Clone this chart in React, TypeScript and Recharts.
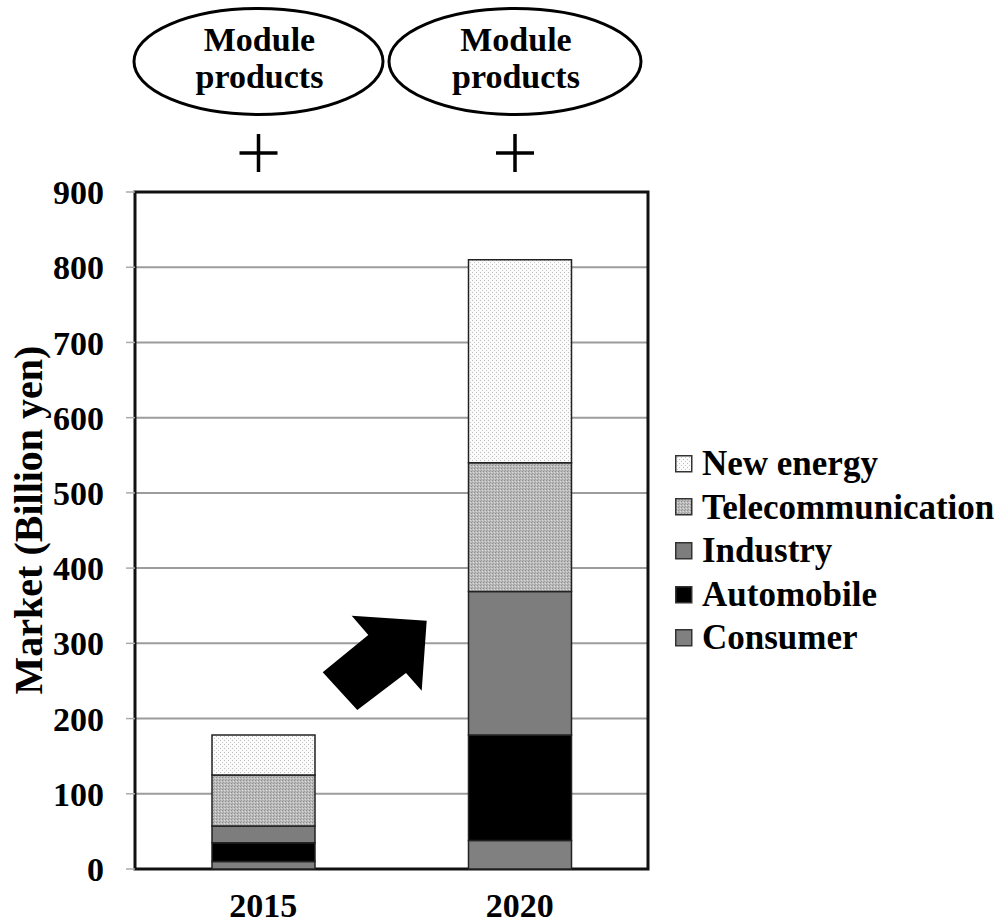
import {
  BarChart,
  Bar,
  XAxis,
  YAxis,
  CartesianGrid,
  Legend,
  ReferenceArea,
  Label,
} from 'recharts';

const FONT = '"Liberation Serif", "Times New Roman", serif';

const years = ['2015', '2020'];
const consumer = [10, 38];
const automobile = [25, 140];
const industry = [22, 191];
const telecom = [68, 171];
const newEnergy = [53, 270];
const yTicks = [0, 100, 200, 300, 400, 500, 600, 700, 800, 900];
const edgeTicks = [0, 1, 2];

const data = years.map((year, i) => ({
  year,
  consumer: consumer[i],
  automobile: automobile[i],
  industry: industry[i],
  telecom: telecom[i],
  newEnergy: newEnergy[i],
}));

// stacked bottom to top
const series = [
  { key: 'consumer', name: 'Consumer', fill: '#808080' },
  { key: 'automobile', name: 'Automobile', fill: '#000000' },
  { key: 'industry', name: 'Industry', fill: '#7d7d7d' },
  { key: 'telecom', name: 'Telecommunication', fill: 'url(#telecomDots)' },
  { key: 'newEnergy', name: 'New energy', fill: 'url(#newEnergyDots)' },
];

function LegendList() {
  return (
    <div style={{ fontFamily: FONT }}>
      {[...series].reverse().map((s) => (
        <div
          key={s.key}
          style={{ display: 'flex', alignItems: 'center', height: 43.6 }}
        >
          <svg width={18} height={18} style={{ marginRight: 9 }}>
            <rect x={0.75} y={0.75} width={16} height={16} fill={s.fill} stroke="#333" strokeWidth={1.5} />
          </svg>
          <span style={{ fontSize: 35, fontWeight: 'bold', color: '#000', lineHeight: '43.6px' }}>
            {s.name}
          </span>
        </div>
      ))}
    </div>
  );
}

function Callouts() {
  const bubbles = [
    { cx: 258.5, cy: 61.5, rx: 124.5 },
    { cx: 515, cy: 61.5, rx: 126 },
  ];
  return (
    <svg
      width={999}
      height={924}
      style={{ position: 'absolute', left: 0, top: 0, pointerEvents: 'none' }}
    >
      {bubbles.map((b, i) => (
        <g key={i}>
          <ellipse cx={b.cx} cy={b.cy} rx={b.rx} ry={53} fill="none" stroke="#000" strokeWidth={3} />
          <text x={b.cx + 1} y={51} textAnchor="middle" fontFamily={FONT} fontWeight="bold" fontSize={34}>
            Module
          </text>
          <text x={b.cx + 1} y={88} textAnchor="middle" fontFamily={FONT} fontWeight="bold" fontSize={34}>
            products
          </text>
          <path
            d={`M${b.cx - 19} 153 H${b.cx + 19} M${b.cx} 134 V172`}
            stroke="#000"
            strokeWidth={3.5}
          />
        </g>
      ))}
      <polygon
        points="322.7,672.3 368.3,635 351.7,615.7 426.7,620.7 421.7,690.7 406,673 357.3,710"
        fill="#000"
      />
    </svg>
  );
}

export default function App() {
  return (
    <div style={{ position: 'relative', width: 999, height: 924, fontFamily: FONT, background: '#fff' }}>
      <style>{'body{margin:0}'}</style>
      <BarChart
        width={999}
        height={924}
        data={data}
        margin={{ top: 192, right: 351, bottom: 0, left: 0 }}
      >
        <defs>
          <pattern id="newEnergyDots" width={4} height={4} patternUnits="userSpaceOnUse">
            <rect width={4} height={4} fill="#fbfbfb" />
            <rect x={0} y={0} width={1} height={1} fill="#bcbcbc" />
            <rect x={2} y={2} width={1} height={1} fill="#c8c8c8" />
          </pattern>
          <pattern id="telecomDots" width={3} height={3} patternUnits="userSpaceOnUse">
            <rect width={3} height={3} fill="#bababa" />
            <rect x={0} y={0} width={1} height={1} fill="#8e8e8e" />
            <rect x={2} y={1} width={1} height={1} fill="#dcdcdc" />
            <rect x={1} y={2} width={1} height={1} fill="#a0a0a0" />
          </pattern>
        </defs>
        <CartesianGrid vertical={false} stroke="#9c9c9c" strokeWidth={2} />
        <XAxis
          xAxisId="edges"
          type="number"
          domain={[0, 2]}
          ticks={edgeTicks}
          tick={false}
          tickLine={{ stroke: '#c4c4c4', strokeWidth: 2 }}
          tickSize={11}
          axisLine={false}
          height={0}
        />
        <XAxis
          dataKey="year"
          height={55}
          tickLine={false}
          axisLine={false}
          tickSize={0}
          tickMargin={24}
          tick={{ fontSize: 34, fontWeight: 'bold', fill: '#000', fontFamily: FONT }}
        />
        <YAxis
          width={135}
          domain={[0, 900]}
          ticks={yTicks}
          interval={0}
          tickSize={9}
          tickMargin={22}
          tickLine={{ stroke: '#ababab', strokeWidth: 1.5 }}
          axisLine={false}
          tick={{ fontSize: 34, fontWeight: 'bold', fill: '#000', fontFamily: FONT }}
        >
          <Label
            content={() => (
              <text
                transform="translate(28,520) rotate(-90)"
                textAnchor="middle"
                dominantBaseline="central"
                fontFamily={FONT}
                fontWeight="bold"
                fontSize={40}
                fill="#000"
              >
                Market (Billion yen)
              </text>
            )}
          />
        </YAxis>
        {series.map((s) => (
          <Bar
            key={s.key}
            dataKey={s.key}
            name={s.name}
            stackId="market"
            fill={s.fill}
            stroke="#222"
            strokeWidth={1.5}
            barSize={103}
            isAnimationActive={false}
          />
        ))}
        <ReferenceArea y1={0} y2={900} fill="none" stroke="#111" strokeWidth={3} ifOverflow="visible" />
        <Legend
          layout="vertical"
          align="center"
          verticalAlign="middle"
          wrapperStyle={{ left: 675, top: 442, width: 324 }}
          content={() => <LegendList />}
        />
      </BarChart>
      <Callouts />
    </div>
  );
}
